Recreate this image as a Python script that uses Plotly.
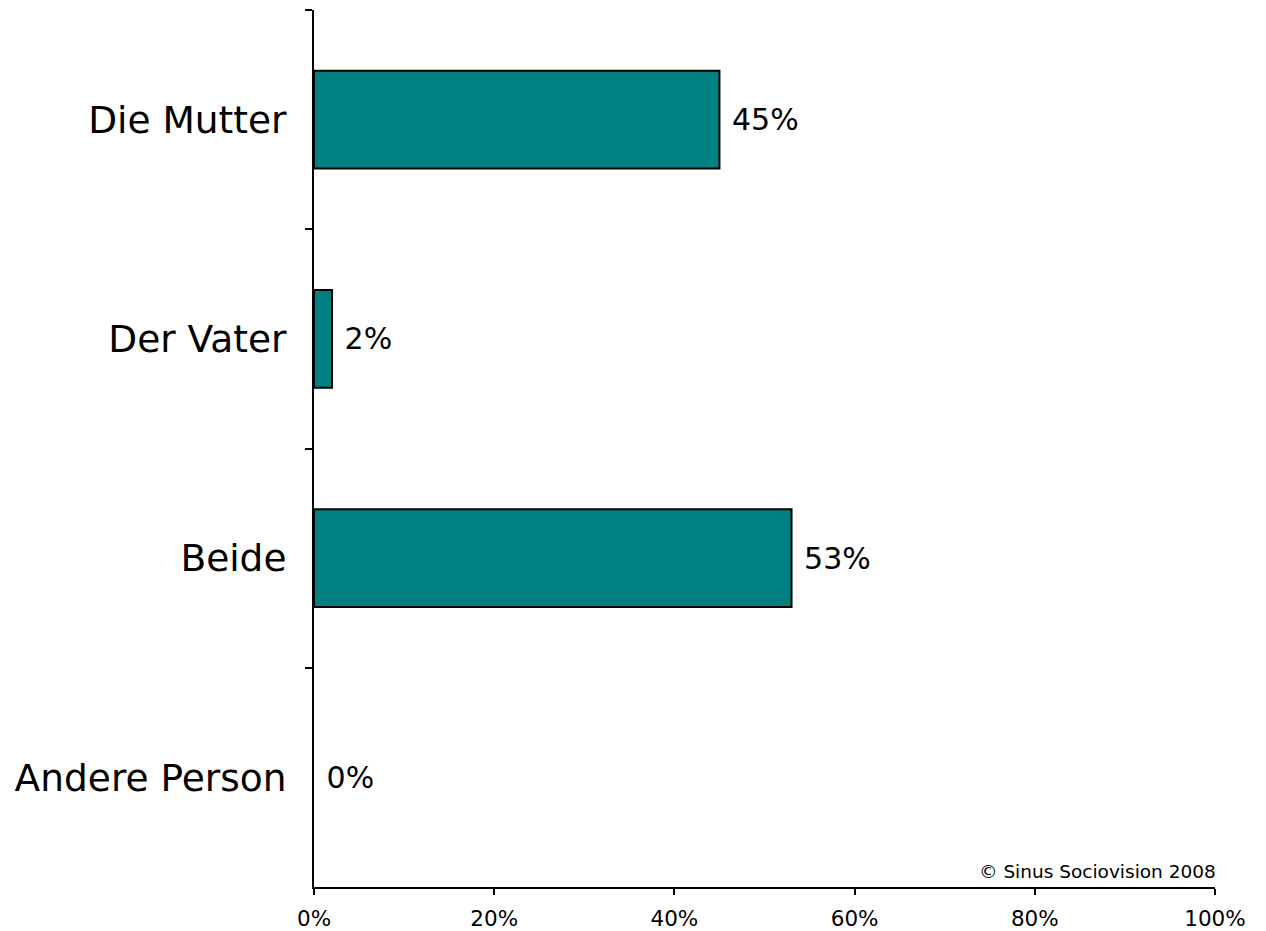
import plotly.graph_objects as go

categories = ["Die Mutter", "Der Vater", "Beide", "Andere Person"]
values = [45, 2, 53, 0]
labels = ["45%", "2%", "53%", "0%"]
x_ticks = [0, 20, 40, 60, 80, 100]
x_tick_labels = ["0%", "20%", "40%", "60%", "80%", "100%"]

FONT = "DejaVu Sans, Verdana, sans-serif"

fig = go.Figure()
fig.add_trace(go.Bar(
    y=categories,
    x=values,
    orientation="h",
    marker=dict(color="#008080",
                line=dict(color="black", width=[2 if v > 0 else 0 for v in values])),
    text=[" " + t for t in labels],
    textposition="outside",
    textfont=dict(family=FONT, size=30, color="black"),
    cliponaxis=False,
    hoverinfo="skip",
))

fig.update_layout(
    width=1266,
    height=931,
    margin=dict(l=306, r=59, t=2, b=52, autoexpand=False),
    paper_bgcolor="white",
    plot_bgcolor="white",
    showlegend=False,
    bargap=0.555,
    font=dict(family=FONT, color="black"),
    xaxis=dict(
        range=[0, 100],
        tickvals=x_ticks,
        ticktext=x_tick_labels,
        tickfont=dict(size=21.5, family=FONT, color="black"),
        showgrid=False,
        zeroline=False,
        showline=True,
        linecolor="black",
        linewidth=2,
        ticks="outside",
        ticklen=6,
        tickwidth=1.5,
        tickcolor="black",
        ticklabelstandoff=5,
        automargin=False,
        fixedrange=True,
    ),
    yaxis=dict(
        type="category",
        categoryorder="array",
        categoryarray=categories,
        autorange="reversed",
        tickfont=dict(size=37.5, family=FONT, color="black"),
        showgrid=False,
        zeroline=False,
        showline=True,
        linecolor="black",
        linewidth=2,
        ticks="outside",
        tickson="boundaries",
        ticklen=7,
        tickwidth=1.5,
        tickcolor="black",
        ticklabelstandoff=18,
        automargin=False,
        fixedrange=True,
    ),
    annotations=[dict(
        text="© Sinus Sociovision 2008",
        xref="paper", yref="paper",
        x=1.003, y=0.003,
        xanchor="right", yanchor="bottom",
        showarrow=False,
        font=dict(size=18.5, family=FONT, color="black"),
    )],
)

fig.write_html("out.html")
